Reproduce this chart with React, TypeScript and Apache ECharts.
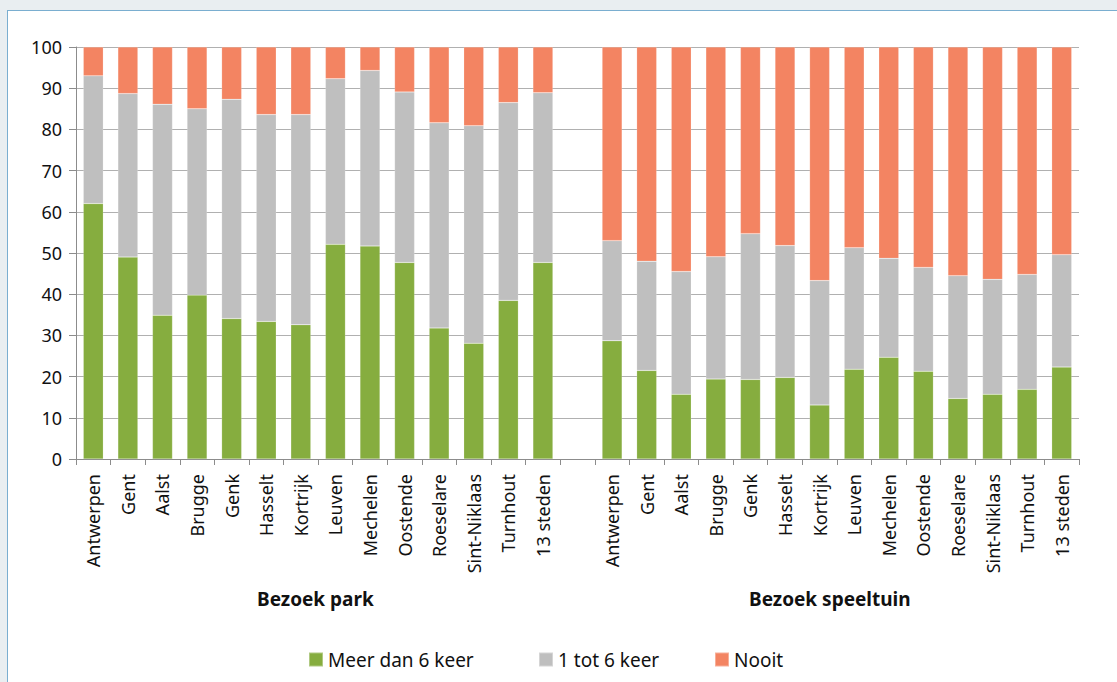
import React, { useEffect, useRef } from "react";
import * as echarts from "echarts";

const cities = ["Antwerpen", "Gent", "Aalst", "Brugge", "Genk", "Hasselt", "Kortrijk", "Leuven", "Mechelen", "Oostende", "Roeselare", "Sint-Niklaas", "Turnhout", "13 steden"];
const groupTitles = ["Bezoek park", "Bezoek speeltuin"];
const seriesNames = ["Meer dan 6 keer", "1 tot 6 keer", "Nooit"];

// Park
const parkMeer = [62, 49, 34.9, 39.8, 34.1, 33.4, 32.6, 52.1, 51.7, 47.7, 31.8, 28.1, 38.5, 47.7];
const park1tot6 = [31, 39.7, 51.2, 45.2, 53.2, 50.2, 51, 40.2, 42.6, 41.4, 49.8, 52.8, 48, 41.2];
const parkNooit = [7, 11.3, 13.9, 15, 12.7, 16.4, 16.4, 7.7, 5.7, 10.9, 18.4, 19.1, 13.5, 11.1];

// Speeltuin
const tuinMeer = [28.7, 21.5, 15.7, 19.4, 19.3, 19.8, 13.1, 21.8, 24.7, 21.3, 14.7, 15.7, 16.9, 22.3];
const tuin1tot6 = [24.3, 26.5, 29.8, 29.7, 35.4, 32, 30.2, 29.5, 24, 25.2, 29.8, 27.9, 27.9, 27.3];
const tuinNooit = [47, 52, 54.5, 50.9, 45.3, 48.2, 56.7, 48.7, 51.3, 53.5, 55.5, 56.4, 55.2, 50.4];

const yTicks = { min: 0, max: 100, interval: 10 };
const colors = ["#86ad3f", "#bfbfbf", "#f38462"];

export default function App() {
  const ref = useRef<HTMLDivElement>(null);
  useEffect(() => {
    if (!ref.current) return;
    const chart = echarts.init(ref.current, null, { renderer: "svg" });
    const cats = [...cities, "", ...cities];
    const join = (a: number[], b: number[]) => [...a, "-", ...b];
    const font = "'Noto Sans', 'Open Sans', sans-serif";
    const data = [join(parkMeer, tuinMeer), join(park1tot6, tuin1tot6), join(parkNooit, tuinNooit)];
    const legendLefts = [303, 533, 709];
    chart.setOption({
      animation: false,
      textStyle: { fontFamily: font },
      grid: { left: 76, right: 38, top: 47, bottom: 223, containLabel: false },
      legend: seriesNames.map((n, i) => ({
        left: legendLefts[i],
        top: 645,
        itemWidth: 14,
        itemHeight: 14,
        itemGap: 0,
        icon: "rect",
        textStyle: { fontSize: 19, color: "#111", fontFamily: font },
        data: [n],
      })),
      xAxis: {
        type: "category",
        data: cats,
        axisLine: { lineStyle: { color: "#8c8c8c", width: 1 } },
        axisTick: { show: true, length: 6, lineStyle: { color: "#8c8c8c" } },
        axisLabel: { rotate: 90, interval: 0, fontSize: 18, color: "#111", margin: 15, fontFamily: font },
      },
      yAxis: {
        type: "value",
        min: yTicks.min,
        max: yTicks.max,
        interval: yTicks.interval,
        axisLine: { show: true, lineStyle: { color: "#8c8c8c" } },
        axisTick: { show: true, length: 7, lineStyle: { color: "#8c8c8c" } },
        axisLabel: { fontSize: 18, color: "#111", margin: 14, fontFamily: font },
        splitLine: { lineStyle: { color: "#b0b0b0", width: 1 } },
      },
      graphic: [
        { type: "text", left: 257, top: 589, style: { text: groupTitles[0], fontSize: 19, fontWeight: "bold", fill: "#111", fontFamily: font } },
        { type: "text", left: 749, top: 589, style: { text: groupTitles[1], fontSize: 19, fontWeight: "bold", fill: "#111", fontFamily: font } },
      ],
      series: seriesNames.map((name, i) => ({
        name,
        type: "bar",
        stack: "total",
        barWidth: 20,
        data: data[i],
        itemStyle: { color: colors[i], borderColor: "rgba(255,255,255,0.35)", borderWidth: 0.5 },
      })),
    });
    return () => chart.dispose();
  }, []);
  return (
    <div style={{ position: "fixed", left: 0, top: 0, width: 1117, height: 682, background: "#e9eef1", overflow: "hidden" }}>
      <div style={{ position: "absolute", left: 7, top: 10, width: 1130, height: 700, background: "#fff", border: "1px solid #7aaed0", boxSizing: "border-box" }} />
      <div ref={ref} style={{ position: "absolute", left: 0, top: 0, width: 1117, height: 682 }} />
    </div>
  );
}
